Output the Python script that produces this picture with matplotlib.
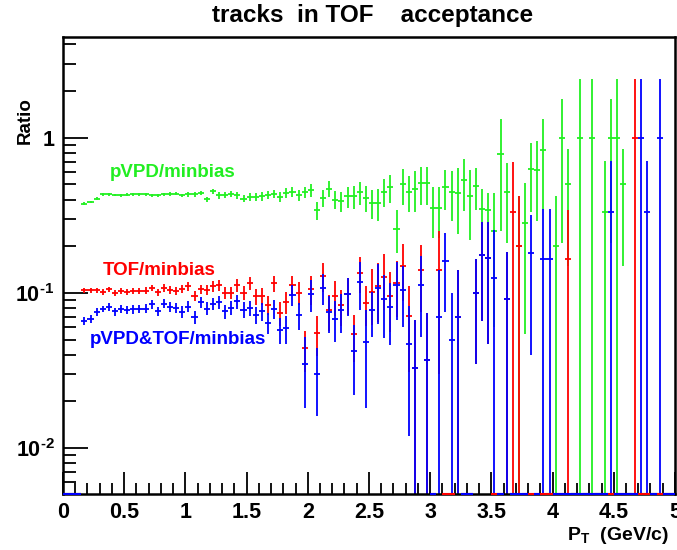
import numpy as np
import matplotlib
matplotlib.use("Agg")
import matplotlib.pyplot as plt
from matplotlib.ticker import FixedLocator, FixedFormatter, LogLocator, MultipleLocator, NullFormatter

plt.rcParams['font.family'] = ['Liberation Sans', 'DejaVu Sans']
plt.rcParams['font.weight'] = 'bold'
plt.rcParams['mathtext.fontset'] = 'custom'
plt.rcParams['mathtext.rm'] = 'Liberation Sans:bold'
plt.rcParams['mathtext.it'] = 'Liberation Sans:bold'
plt.rcParams['mathtext.bf'] = 'Liberation Sans:bold'

# histogram binning: 0..5 GeV/c, 0.05 wide
bin_w = 0.05
pt = np.arange(100) * bin_w + bin_w / 2

# pVPD/minbias
green = ([0, 0, 0] +
         [0.375, 0.386, 0.406, 0.431, 0.431, 0.429, 0.425, 0.429, 0.431, 0.433, 0.433,
          0.425, 0.427, 0.431, 0.433, 0.437, 0.425, 0.431, 0.431, 0.44, 0.402, 0.453] +
         [0.425, 0.43, 0.435, 0.425, 0.405, 0.415, 0.415, 0.42, 0.43, 0.435, 0.415, 0.44,
          0.45, 0.425, 0.445, 0.46, 0.34, 0.41, 0.47, 0.40, 0.39, 0.42, 0.42, 0.445, 0.41] +
         [0.38, 0.38, 0.45, 0.48, 0.26, 0.50, 0.45, 0.47, 0.51, 0.51, 0.355, 0.355, 0.48,
          0.45, 0.44, 0.535, 0.42, 0.49, 0.35, 0.34, 0.25, 0.79, 0.45, 0, 0.2] +
         [0.284, 0.63, 0.62, 0.83, 0, 0.2, 1.0, 0.5, 0, 1.0, 0, 1.0, 0, 0.333, 1.0, 1.0,
          0.5, 0, 0, 0, 0, 0, 0, 0, 0])
green_err = ([0, 0, 0] +
             [0.008, 0.008, 0.008, 0.008, 0.008, 0.008, 0.009, 0.009, 0.009, 0.009, 0.01,
              0.01, 0.01, 0.011, 0.011, 0.012, 0.012, 0.013, 0.013, 0.014, 0.014, 0.016] +
             [0.02, 0.02, 0.021, 0.022, 0.022, 0.024, 0.025, 0.026, 0.027, 0.028, 0.03, 0.032,
              0.034, 0.035, 0.037, 0.045, 0.045, 0.05, 0.055, 0.055, 0.06, 0.065, 0.07, 0.075, 0.08] +
             [0.08, 0.09, 0.09, 0.1, 0.08, 0.13, 0.12, 0.14, 0.14, 0.14, 0.13, 0.13, 0.14,
              0.16, 0.2, 0.2, 0.2, 0.15, 0.12, 0.1, 0.19, 0.54, 0.24, 0, 0.22] +
             [0.23, 0.3, 0.33, 0.49, 0, 0.22, 0.79, 0.35, 0, 1.4, 0, 1.4, 0, 0.38, 0.79, 1.4,
              0.35, 0, 0, 0, 0, 0, 0, 0, 0])

# TOF/minbias
red = ([0, 0, 0] +
       [0.104, 0.104, 0.104, 0.1015, 0.1056, 0.1005, 0.1035, 0.101, 0.103, 0.103, 0.1035,
        0.1077, 0.101, 0.1077, 0.1045, 0.103, 0.1066, 0.11, 0.0956, 0.1056, 0.1045, 0.11] +
       [0.112, 0.10, 0.10, 0.112, 0.10, 0.115, 0.095, 0.095, 0.084, 0.115, 0.074, 0.087,
        0.112, 0.10, 0.044, 0.106, 0.055, 0.128, 0.077, 0.095, 0.083, 0.098, 0.054, 0.135, 0.086] +
       [0.102, 0.11, 0.127, 0.096, 0.115, 0.148, 0.071, 0.033, 0.14, 0.037, 0, 0.14, 0,
        0, 0.07, 0, 0, 0.1, 0.176, 0.167, 0, 0, 0.091, 0.333, 0.2] +
       [0, 0, 0, 0, 0, 0, 0, 0.166, 0, 0, 0, 0, 0, 0, 0, 0, 0, 0, 1.0, 0, 0, 0, 0, 0, 0])
red_err = ([0, 0, 0] +
           [0.004, 0.004, 0.004, 0.004, 0.004, 0.0045, 0.0045, 0.0045, 0.005, 0.005, 0.005,
            0.0055, 0.0055, 0.006, 0.006, 0.0065, 0.0065, 0.007, 0.007, 0.0075, 0.008, 0.0085] +
           [0.009, 0.009, 0.009, 0.01, 0.01, 0.011, 0.011, 0.012, 0.012, 0.014, 0.013, 0.014,
            0.016, 0.017, 0.013, 0.022, 0.016, 0.027, 0.02, 0.024, 0.022, 0.026, 0.018, 0.035, 0.025] +
           [0.04, 0.045, 0.05, 0.04, 0.045, 0.06, 0.04, 0.034, 0.065, 0.037, 0, 0.11, 0,
            0, 0.07, 0, 0, 0.065, 0.11, 0.12, 0, 0, 0.093, 0.37, 0.22] +
           [0, 0, 0, 0, 0, 0, 0, 0.177, 0, 0, 0, 0, 0, 0, 0, 0, 0, 0, 1.4, 0, 0, 0, 0, 0, 0])

# pVPD&TOF/minbias
blue = ([0, 0, 0] +
        [0.0663, 0.068, 0.0754, 0.0788, 0.0809, 0.0759, 0.0792, 0.0777, 0.0785, 0.0788, 0.0792,
         0.0845, 0.0759, 0.0853, 0.0812, 0.08, 0.0754, 0.0816, 0.0697, 0.087, 0.0792, 0.085] +
        [0.087, 0.076, 0.08, 0.088, 0.078, 0.08, 0.072, 0.076, 0.064, 0.079, 0.058, 0.059,
         0.097, 0.072, 0.035, 0.098, 0.030, 0.108, 0.075, 0.068, 0.077, 0.098, 0.042, 0.118, 0.048] +
        [0.077, 0.108, 0.091, 0.081, 0.112, 0.105, 0.047, 0.033, 0.112, 0.037, 0, 0.07, 0.16,
         0.05, 0.07, 0, 0, 0.1, 0.176, 0.167, 0.125, 0, 0.091, 0, 0] +
        [0, 0.18, 0, 0.166, 0.166, 0, 0, 0, 0, 0, 0, 0, 0, 0, 0.333, 0, 0, 0, 0, 1.0, 0.333,
         0, 1.0, 0, 0])
blue_err = ([0, 0, 0] +
            [0.004, 0.004, 0.004, 0.004, 0.0045, 0.0045, 0.0045, 0.0045, 0.005, 0.005, 0.005,
             0.0055, 0.0055, 0.006, 0.006, 0.006, 0.0065, 0.0065, 0.007, 0.007, 0.0075, 0.008] +
            [0.008, 0.008, 0.008, 0.009, 0.009, 0.009, 0.009, 0.01, 0.01, 0.011, 0.011, 0.012,
             0.015, 0.014, 0.017, 0.023, 0.014, 0.024, 0.02, 0.02, 0.022, 0.027, 0.02, 0.04, 0.03] +
            [0.025, 0.045, 0.04, 0.035, 0.045, 0.045, 0.035, 0.034, 0.06, 0.037, 0, 0.07, 0.085,
             0.05, 0.07, 0, 0, 0.065, 0.11, 0.12, 0.13, 0, 0.093, 0, 0] +
            [0, 0.14, 0, 0.18, 0.18, 0, 0, 0, 0, 0, 0, 0, 0, 0, 0.38, 0, 0, 0, 0, 1.4, 0.38,
             0, 1.4, 0, 0])

y_lo, y_hi = 0.00505, 4.48

fig = plt.figure(figsize=(6.77, 5.5), dpi=100)
ax = fig.add_axes([0.093, 0.102, 0.904, 0.831])
ax.set_yscale('log')


def draw(vals, errs, color):
    v = np.array(vals, dtype=float)
    e = np.array(errs, dtype=float)
    ok = v > 0
    low = np.minimum(e, v - y_lo * 0.999)
    ax.errorbar(pt[ok], v[ok], xerr=bin_w / 2, yerr=[low[ok], e[ok]], fmt='none',
                ecolor=color, elinewidth=1.3, capsize=0)
    # empty bins sit on the bottom of the frame
    z = ~ok
    ax.hlines(np.full(z.sum(), y_lo), pt[z] - bin_w / 2, pt[z] + bin_w / 2,
              colors=color, lw=1.5, clip_on=False, zorder=3)


draw(green, green_err, '#22f022')
draw(red, red_err, '#ff0000')
draw(blue, blue_err, '#0000ff')

ax.set_xlim(0, 5)
ax.set_ylim(y_lo, y_hi)

ax.set_xticks([0, 0.5, 1, 1.5, 2, 2.5, 3, 3.5, 4, 4.5, 5])
ax.set_xticklabels(['0', '0.5', '1', '1.5', '2', '2.5', '3', '3.5', '4', '4.5', '5'])
ax.xaxis.set_minor_locator(MultipleLocator(0.1))
ax.yaxis.set_major_locator(FixedLocator([0.01, 0.1, 1]))
ax.yaxis.set_major_formatter(FixedFormatter([r'$10^{\text{-}2}$', r'$10^{\text{-}1}$', '1']))
ax.yaxis.set_minor_locator(LogLocator(base=10, subs=np.arange(2, 10)))
ax.yaxis.set_minor_formatter(NullFormatter())

ax.tick_params(axis='both', which='both', direction='in', top=False, right=False,
               labelsize=15.5, width=1.3, colors='black')
ax.tick_params(axis='y', which='major', length=18, pad=6)
ax.tick_params(axis='y', which='minor', length=9)
ax.tick_params(axis='x', which='major', length=16, pad=6)
ax.tick_params(axis='x', which='minor', length=8)
for lab in ax.get_xticklabels() + ax.get_yticklabels():
    lab.set_fontweight('bold')
for s in ax.spines.values():
    s.set_linewidth(1.8)

ax.text(0.9, 0.6, 'pVPD/minbias', color='#22ee22', fontsize=13.5, fontweight='bold',
        ha='center', va='center')
ax.text(0.79, 0.14, 'TOF/minbias', color='#ff0000', fontsize=13.5, fontweight='bold',
        ha='center', va='center')
ax.text(0.94, 0.05, 'pVPD&TOF/minbias', color='#0000ff', fontsize=13.5, fontweight='bold',
        ha='center', va='center')

fig.text(0.55, 0.972, 'tracks  in TOF    acceptance', ha='center', va='center',
         fontsize=17.5, fontweight='bold')
fig.text(0.037, 0.78, 'Ratio', rotation=90, ha='center', va='center',
         fontsize=13.5, fontweight='bold')
fig.text(0.988, 0.027, r'P$_{\rm T}$  (GeV/c)', ha='right', va='center',
         fontsize=14, fontweight='bold')

fig.savefig('out.png', dpi=100)
